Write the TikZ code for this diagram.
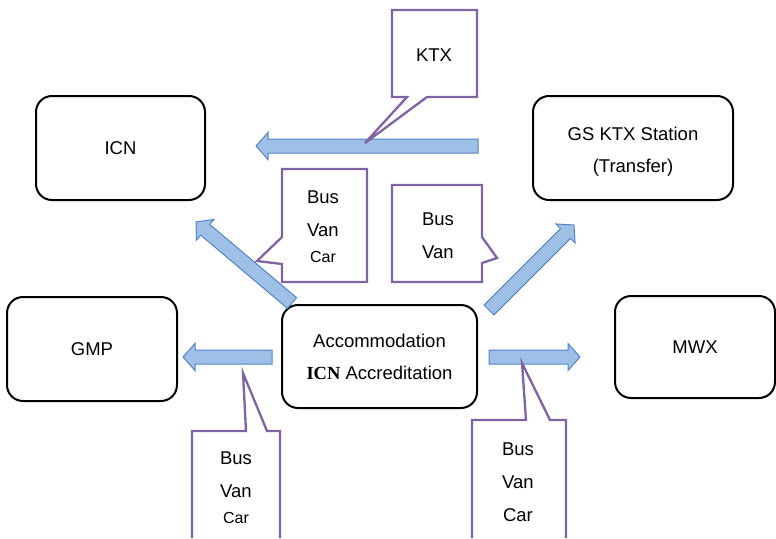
\documentclass[tikz,border=0pt]{standalone}
\usepackage{fontspec}
\setmainfont{Liberation Sans}
\newfontfamily\icnfont{Liberation Serif}
\usetikzlibrary{positioning, calc}
\definecolor{arrowfill}{RGB}{158,192,230}
\definecolor{arrowline}{RGB}{84,131,196}
\definecolor{callcolor}{RGB}{128,100,162}

% block arrow between two named points
\newcommand{\blockarrow}[2]{%
  \coordinate (neck) at ($(#2)!12pt!(#1)$);
  \draw[blockarr] ($(#1)!7pt!90:(#2)$) -- ($(neck)!7pt!90:(#2)$) -- ($(neck)!13.5pt!90:(#2)$) -- (#2)
    -- ($(neck)!13.5pt!-90:(#2)$) -- ($(neck)!7pt!-90:(#2)$) -- ($(#1)!7pt!-90:(#2)$) -- cycle;
}

\begin{document}
\begin{tikzpicture}[
    x=1pt, y=-1pt,
    box/.style={draw, rounded corners=16pt, line width=2pt, align=center, font=\fontsize{18.5}{32}\selectfont},
    blockarr/.style={draw=arrowline, fill=arrowfill, line width=1pt, line join=miter},
    callout/.style={draw=callcolor, line width=2.3pt},
    calltext/.style={align=center, inner sep=0pt, font=\fontsize{18.5}{33}\selectfont}
]
    \useasboundingbox (0,0) rectangle (776,538);

    % Boxes
    \node[box, minimum width=169pt, minimum height=104pt] (icn) at (120.5,148) {ICN};
    \node[box, minimum width=200pt, minimum height=104pt] (gs) at (633,148) {};
    \node[align=center, font=\fontsize{18.5}{32}\selectfont] (gstext) at (633,152) {GS KTX Station\\(Transfer)};
    \node[box, minimum width=170pt, minimum height=104pt] (gmp) at (92,349) {GMP};
    \node[box, minimum width=160pt, minimum height=102pt] (mwx) at (695,347) {MWX};
    \node[box, minimum width=195pt, minimum height=103pt] (acc) at (379.5,356.5) {Accommodation\\{\icnfont\bfseries ICN} Accreditation};

    % Arrow ends
    \coordinate (ktxfrom) at (478,146);
    \coordinate (ktxto) at (256,146);
    \coordinate (nwfrom) at (292,303);
    \coordinate (nwto) at (196,222);
    \coordinate (nefrom) at (489,310);
    \coordinate (neto) at (574,225);
    \coordinate (wfrom) at (272,357);
    \coordinate (wto) at (183,357);
    \coordinate (efrom) at (489,357);
    \coordinate (eto) at (580,357);

    % Block arrows
    \blockarrow{ktxfrom}{ktxto}
    \blockarrow{nwfrom}{nwto}
    \blockarrow{nefrom}{neto}
    \blockarrow{wfrom}{wto}
    \blockarrow{efrom}{eto}

    % Callouts
    \draw[callout] (392,10) -- (477,10) -- (477,97) -- (427,97) -- (365,143) -- (407,97) -- (392,97) -- cycle;
    \node[calltext] (ktx) at (434,55) {KTX};

    \draw[callout] (282,169) -- (367,169) -- (367,282) -- (282,282) -- (282,264) -- (257,261) -- (282,237) -- cycle;
    \node[calltext] (mode1) at (323,227) {Bus\\Van\\[-7pt]{\fontsize{16}{25}\selectfont Car}};

    \draw[callout] (392,185) -- (482,185) -- (482,237) -- (497,258) -- (482,263) -- (482,282) -- (392,282) -- cycle;
    \node[calltext] (mode2) at (438,236) {Bus\\Van};

    \draw[callout] (192,538) -- (192,431) -- (246,431) -- (243,373) -- (267,431) -- (280,431) -- (280,538);
    \node[calltext] (mode3) at (236,488) {Bus\\Van\\[-7pt]{\fontsize{16}{25}\selectfont Car}};

    \draw[callout] (472,538) -- (472,420) -- (526,420) -- (522,363) -- (550,420) -- (566,420) -- (566,538);
    \node[calltext] (mode4) at (518,482) {Bus\\Van\\Car};
\end{tikzpicture}
\end{document}
